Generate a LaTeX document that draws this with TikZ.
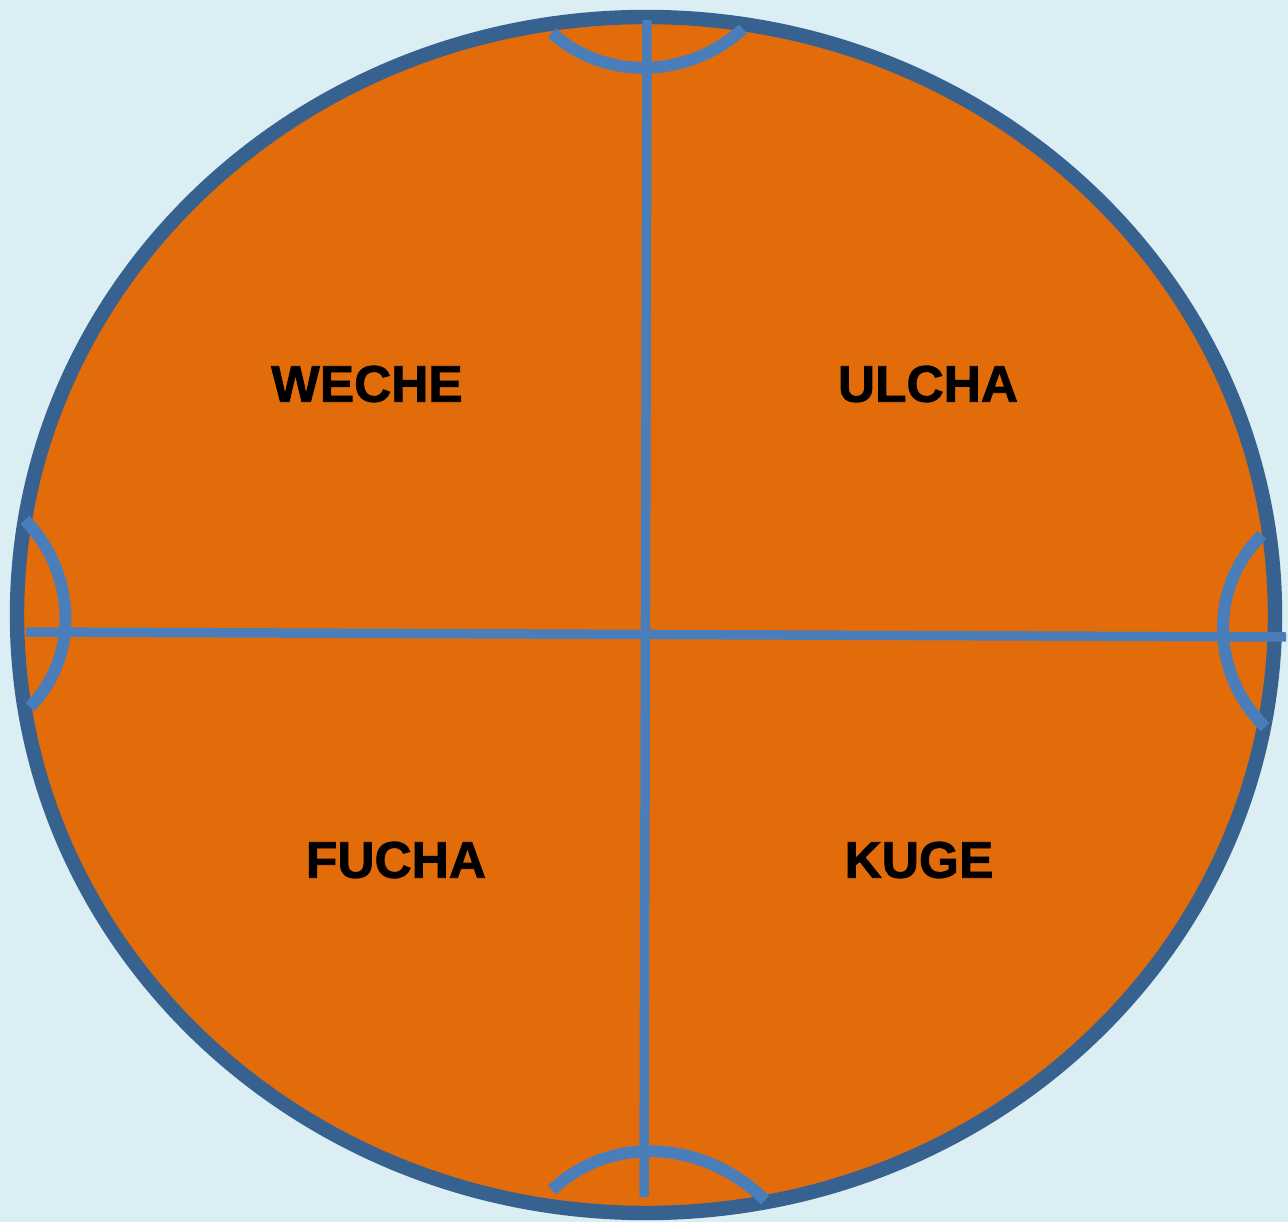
\documentclass[tikz,border=0pt]{standalone}
\usepackage{fontspec}
\setmainfont{Liberation Sans}
\newfontfamily\zonefont{Liberation Sans}[UprightFont=*-Bold,FakeBold=1.6]
\definecolor{skybg}{HTML}{DAEEF3}
\definecolor{fieldorange}{HTML}{E36C0A}
\definecolor{rimblue}{HTML}{37618F}
\definecolor{lineblue}{HTML}{4A7EBB}
\begin{document}
\begin{tikzpicture}[x=0.02cm,y=-0.02cm,
  rim/.style={draw=rimblue,fill=fieldorange,line width=8.2pt},
  axis/.style={draw=lineblue,line width=5.4pt},
  bow/.style={draw=lineblue,line width=6.8pt},
  zone/.style={font=\zonefont\fontsize{29.3}{32}\selectfont,text=black,inner sep=0pt}]
  \fill[skybg] (0,0) rectangle (1288,1222);
  \useasboundingbox (0,0) rectangle (1288,1222);
  % field
  \draw[rim] (646,615) ellipse [x radius=629, y radius=598];
  % end points of the axes
  \coordinate (n) at (647,20);
  \coordinate (s) at (644,1197);
  \coordinate (w) at (26,632);
  \coordinate (e) at (1286,637);
  \draw[axis] (n) -- (s);
  \draw[axis] (w) -- (e);
  % arcs at the four ends
  \coordinate (n1) at (552,33);  \coordinate (n2) at (743,29);
  \coordinate (s1) at (552,1190); \coordinate (s2) at (765,1200);
  \coordinate (w1) at (25,520);  \coordinate (w2) at (30,707);
  \coordinate (e1) at (1262,535); \coordinate (e2) at (1265,727);
  \draw[bow] (n1) .. controls (606,82) and (689,78) .. (n2);
  \draw[bow] (s1) .. controls (612,1133) and (705,1141) .. (s2);
  \draw[bow] (w1) .. controls (75.5,572) and (80.5,655) .. (w2);
  \draw[bow] (e1) .. controls (1208,588) and (1211,674) .. (e2);
  % names of the quarters
  \node[zone] (weche) at (367,384) {WECHE};
  \node[zone] (ulcha) at (928,384) {ULCHA};
  \node[zone] (fucha) at (396,860) {FUCHA};
  \node[zone] (kuge) at (919,860) {KUGE};
\end{tikzpicture}
\end{document}
